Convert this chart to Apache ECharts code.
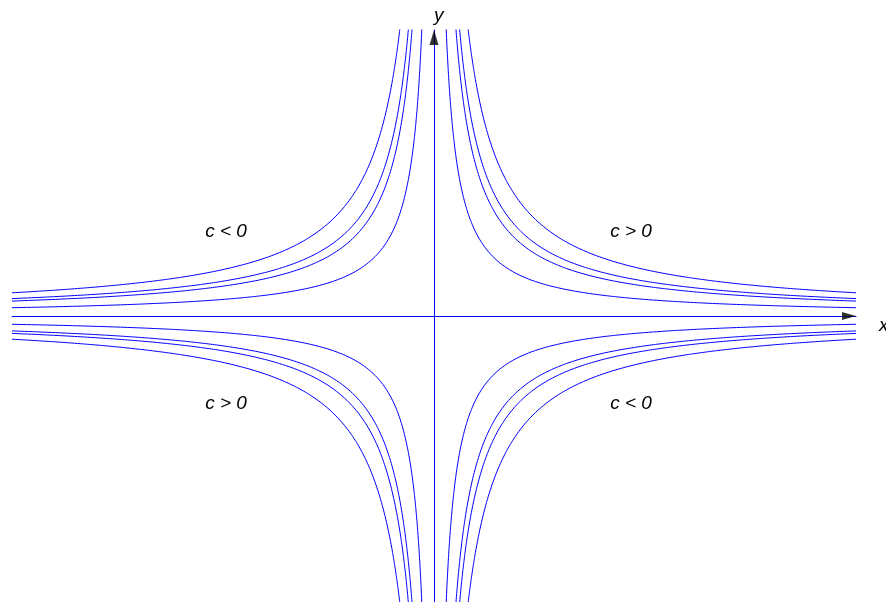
<!DOCTYPE html>
<html>
<head>
<meta charset="utf-8">
<script src="https://cdn.jsdelivr.net/npm/echarts@6/dist/echarts.min.js"></script>
<style>html,body{margin:0;padding:0;background:#fff}#c{width:886px;height:602px}</style>
</head>
<body>
<div id="c"></div>
<script>
// Hyperbolas x*y = c for these constants
var cValues = [1, 1.8, 2.1, 2.8];
var xLimit = [-6, 6];
var yLimit = [-5.75, 5.75];
var regionLabels = ['c < 0', 'c > 0', 'c > 0', 'c < 0'];
var axisNames = ['x', 'y'];

var chart = echarts.init(document.getElementById('c'), null, {renderer: 'canvas'});

function branch(c, sx) {
  // sample x geometrically from where |y| hits the y-limit to the x-limit
  var pts = [];
  var x0 = Math.abs(c) / yLimit[1] * 0.98, x1 = xLimit[1];
  var n = 300;
  for (var i = 0; i <= n; i++) {
    var x = x0 * Math.pow(x1 / x0, i / n);
    var xv = sx * x;
    pts.push([xv, c / xv]);
  }
  return pts;
}

var series = [];
cValues.forEach(function (c) {
  [c, -c].forEach(function (cc) {
    [1, -1].forEach(function (sx) {
      series.push({
        type: 'line', data: branch(cc, sx), showSymbol: false, symbol: 'none',
        clip: true, silent: true, animation: false,
        lineStyle: {color: '#0000ff', width: 1}
      });
    });
  });
});
// axis arrows
series.push({
  type: 'scatter', silent: true, animation: false, clip: false, z: 10,
  data: [
    {value: [xLimit[1], 0], symbolRotate: -90, symbolSize: [8, 14], symbolOffset: [-7, 0]},
    {value: [0, yLimit[1]], symbolRotate: 0, symbolSize: [9, 15], symbolOffset: [0, 7.5]}
  ],
  symbol: 'triangle',
  itemStyle: {color: '#000'}
});

var font = '"Liberation Sans", Arial, sans-serif';
function txt(s, x, y, align) {
  return {type: 'text', x: x, y: y, silent: true,
    style: {text: s, fill: '#000', font: 'italic 19px ' + font, textAlign: align || 'center', textVerticalAlign: 'middle'}};
}

chart.setOption({
  animation: false,
  backgroundColor: '#fff',
  grid: {left: 12, right: 30, top: 30, bottom: 0, containLabel: false},
  xAxis: {type: 'value', min: xLimit[0], max: xLimit[1],
    axisLine: {show: true, onZero: true, lineStyle: {color: '#0000ff', width: 1}},
    axisTick: {show: false}, axisLabel: {show: false}, splitLine: {show: false}},
  yAxis: {type: 'value', min: yLimit[0], max: yLimit[1],
    axisLine: {show: true, onZero: true, lineStyle: {color: '#0000ff', width: 1}},
    axisTick: {show: false}, axisLabel: {show: false}, splitLine: {show: false}},
  series: series,
  graphic: [
    txt(regionLabels[0], 226, 232),
    txt(regionLabels[1], 631, 232),
    txt(regionLabels[2], 226, 404),
    txt(regionLabels[3], 631, 404),
    txt(axisNames[0], 879, 326, 'left'),
    txt(axisNames[1], 434, 16, 'left')
  ]
});
</script>
</body>
</html>
